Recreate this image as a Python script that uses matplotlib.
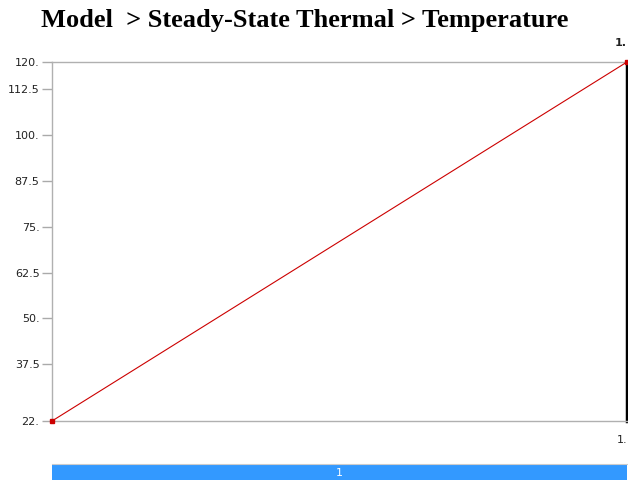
import numpy as np
import matplotlib
matplotlib.use("Agg")
import matplotlib.pyplot as plt

# data
x_vals = [0.0, 1.0]
temperature = [22.0, 120.0]
y_ticks = [22.0, 37.5, 50.0, 62.5, 75.0, 87.5, 100.0, 112.5, 120.0]
y_labels = ["22.", "37.5", "50.", "62.5", "75.", "87.5", "100.", "112.5", "120."]
x_tick_label = "1."
bar_label = "1"

fig = plt.figure(figsize=(6.28, 4.8), dpi=100)
W, H = 628, 480

ax = fig.add_axes([52 / W, (H - 421) / H, 575 / W, 359 / H])
ax.plot(x_vals, temperature, color="#cc0000", lw=0.8,
        marker="s", markersize=3, clip_on=False, zorder=5)
ax.set_xlim(0, 1)
ax.set_ylim(22, 120)

ax.set_yticks(y_ticks)
ax.set_yticklabels(y_labels, fontsize=8, color="#222222")
ax.tick_params(axis="y", length=7, color="#aaaaaa", width=1, pad=2)

ax.set_xticks([1])
ax.set_xticklabels([x_tick_label], fontsize=8, color="#222222")
ax.tick_params(axis="x", length=0, pad=10)
for lab in ax.get_xticklabels():
    lab.set_horizontalalignment("right")

for side in ["top", "bottom", "left"]:
    ax.spines[side].set_color("#b0b0b0")
    ax.spines[side].set_linewidth(1)
ax.spines["right"].set_color("black")
ax.spines["right"].set_linewidth(2.5)

ax.text(1, 1.04, x_tick_label, transform=ax.transAxes, ha="right", va="bottom",
        fontsize=8, fontweight="bold", color="#222222")

fig.text(305 / W, 1 - 21 / H, "Model  > Steady-State Thermal > Temperature",
         ha="center", va="center", fontsize=19, fontweight="bold",
         family="Liberation Serif")

# blue bar at bottom
bar = fig.add_axes([52 / W, 0, 575 / W, 16 / H])
bar.set_facecolor("#3399ff")
bar.set_xticks([])
bar.set_yticks([])
for side in ["left", "right", "bottom"]:
    bar.spines[side].set_visible(False)
bar.spines["top"].set_color("#cccccc")
bar.text(0.5, 0.45, bar_label, transform=bar.transAxes, ha="center", va="center",
         fontsize=8, color="white")

fig.savefig("out.png", dpi=100)
